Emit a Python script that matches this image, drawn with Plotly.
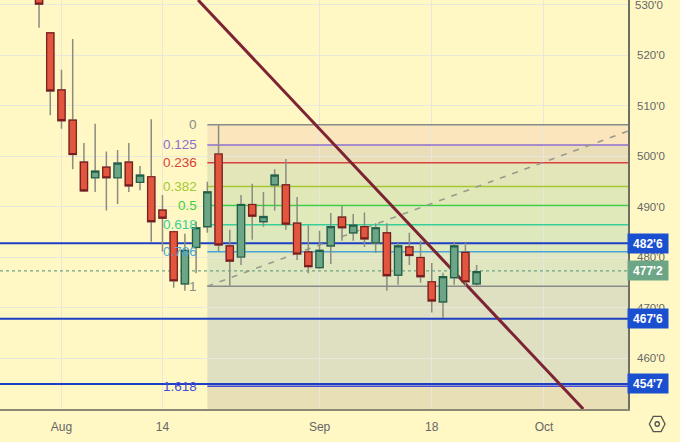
import plotly.graph_objects as go

# Session index: 0 = 1 Aug; weekdays only
sessions = list(range(-2, 38))
opens = [532.9,524.4,513.1,507.1,498.8,495.7,497.8,495.7,498.8,494.8,495.9,489.3,485.0,474.7,481.9,486.0,
         500.4,482.2,480.0,490.4,487.0,494.3,494.3,486.7,481.0,477.9,482.2,487.9,484.8,486.0,482.8,484.8,
         476.4,482.0,479.9,475.1,471.1,475.9,480.9,474.7]
highs = [533.5,524.5,517.1,523.2,502.6,506.4,500.9,501.2,502.6,498.0,507.3,492.3,485.2,484.6,487.0,494.9,
         506.1,485.4,492.3,494.5,492.9,497.4,499.4,491.9,486.3,485.2,488.7,490.2,488.5,488.8,486.7,486.7,
         482.8,484.8,483.2,478.8,476.9,483.0,482.8,478.4]
lows = [525.4,508.1,505.4,497.4,492.9,492.9,489.2,490.5,492.9,493.2,483.0,481.1,473.9,473.3,476.8,484.8,
        481.1,474.3,478.4,483.4,486.0,489.2,485.4,479.4,476.8,477.7,478.6,483.2,483.2,482.0,480.8,473.3,
        474.5,478.4,474.9,469.0,467.9,474.5,474.1,474.1]
closes = [530.1,512.9,507.0,500.3,493.1,497.0,495.7,498.6,494.1,496.2,487.0,487.7,475.3,481.3,485.8,492.9,
          482.4,479.2,490.4,488.1,488.0,496.2,486.5,480.6,478.1,481.3,486.0,485.8,486.3,483.6,485.8,476.3,
          482.2,480.3,476.1,471.3,476.1,482.2,475.1,477.1]

x_ticks = [0, 9, 23, 33, 43]
x_labels = ["Aug", "14", "Sep", "18", "Oct"]
y_ticks = [460, 470, 480, 490, 500, 510, 520]
y_labels = ["460'0", "470'0", "480'0", "490'0", "500'0", "510'0", "520'0"]
top_tick = 530
top_label = "530'0"

fib_labels = ["0", "0.125", "0.236", "0.382", "0.5", "0.618", "0.786", "1", "1.618"]
fib_prices = [506.2, 502.2, 498.65, 493.95, 490.2, 486.4, 481.05, 474.2, 454.4]
fib_colors = ["#8a8a8a", "#8e6fd0", "#d9413c", "#a3c832", "#3ccf3c", "#36cf9a", "#4aa3d9", "#8a8a8a", "#4a4ad8"]
fib_fills = ["#fae5bc", "#e9deb8", "#e3e6b9", "#e0e8b8", "#dfe9ba", "#dee8bd", "#e0e6bf", "#dfdfc2", "#e9dfb6"]
fib_start = 13

blue_levels = [482.75, 467.75, 454.875]
blue_labels = ["482'6", "467'6", "454'7"]
last_price = 477.25
last_label = "477'2"

trend_x = [12.17, 46.5]
trend_y = [530.9, 449.9]
dash_x = [13, 50.5]
dash_y = [474.2, 504.95]

X_MIN, X_MAX = -5.48, 50.49
Y_MIN, Y_MAX = 449.9, 530.9
BG = "#fff8c4"
RED, RED_EDGE = "#e2553f", "#7a1c1c"
GREEN, GREEN_EDGE = "#6ca686", "#1f6048"
WICK = "#8c8c80"
FONT = "Liberation Sans"
TXT = "#666666"

fig = go.Figure()

# wicks
fig.add_trace(go.Candlestick(x=sessions, open=opens, high=highs, low=lows, close=closes, whiskerwidth=0,
                             increasing=dict(fillcolor=GREEN, line=dict(color=WICK, width=1.5)),
                             decreasing=dict(fillcolor=RED, line=dict(color=WICK, width=1.5)),
                             showlegend=False, hoverinfo="skip"))
# bodies with darker edge
fig.add_trace(go.Candlestick(x=sessions, open=opens, close=closes,
                             high=[max(o, c) for o, c in zip(opens, closes)],
                             low=[min(o, c) for o, c in zip(opens, closes)], whiskerwidth=0,
                             increasing=dict(fillcolor=GREEN, line=dict(color=GREEN_EDGE, width=1.2)),
                             decreasing=dict(fillcolor=RED, line=dict(color=RED_EDGE, width=1.2)),
                             showlegend=False, hoverinfo="skip"))

shapes = []
tops = fib_prices
bottoms = fib_prices[1:] + [Y_MIN]
for t, b, col in zip(tops, bottoms, fib_fills):
    shapes.append(dict(type="rect", xref="x", yref="y", x0=fib_start, x1=X_MAX, y0=b, y1=t,
                       fillcolor=col, line_width=0, layer="below"))
for p, col in zip(fib_prices, fib_colors):
    shapes.append(dict(type="line", xref="x", yref="y", x0=fib_start, x1=X_MAX, y0=p, y1=p,
                       line=dict(color=col, width=1.5), layer="between"))
for p in blue_levels:
    shapes.append(dict(type="line", xref="x", yref="y", x0=X_MIN, x1=X_MAX, y0=p, y1=p,
                       line=dict(color="#1c3fc4", width=2), layer="between"))
shapes.append(dict(type="line", xref="x", yref="y", x0=X_MIN, x1=X_MAX, y0=last_price, y1=last_price,
                   line=dict(color=GREEN, width=1.2, dash="dot"), layer="between"))
shapes.append(dict(type="line", xref="x", yref="y", x0=dash_x[0], x1=dash_x[1], y0=dash_y[0], y1=dash_y[1],
                   line=dict(color="#9a9a8c", width=1.5, dash="6px,7px"), layer="between"))
shapes.append(dict(type="line", xref="x", yref="y", x0=trend_x[0], x1=trend_x[1], y0=trend_y[0], y1=trend_y[1],
                   line=dict(color="#7c2433", width=3), layer="between"))
# horizontal grid line of the top tick, whose label is an annotation
shapes.append(dict(type="line", xref="x", yref="y", x0=X_MIN, x1=X_MAX, y0=top_tick, y1=top_tick,
                   line=dict(color="#e9e6dc", width=1), layer="below"))
# settings icon
cx, cy, rx, ry = 1.0465, -0.0367, 0.0125, 0.0185
hexpath = (f"M{cx-rx},{cy} L{cx-rx/2},{cy+ry} L{cx+rx/2},{cy+ry} L{cx+rx},{cy} "
           f"L{cx+rx/2},{cy-ry} L{cx-rx/2},{cy-ry} Z")
shapes.append(dict(type="path", xref="paper", yref="paper", path=hexpath, line=dict(color="#555555", width=1.3)))
shapes.append(dict(type="circle", xref="paper", yref="paper", x0=cx-0.0035, x1=cx+0.0035,
                   y0=cy-0.0055, y1=cy+0.0055, line=dict(color="#555555", width=1.3)))

annotations = []
for lab, p, col in zip(fib_labels, fib_prices, fib_colors):
    annotations.append(dict(x=12.17, y=p, xref="x", yref="y", text=lab, showarrow=False, xanchor="right",
                            yanchor="middle", xshift=1, font=dict(family=FONT, size=13.5, color=col)))
annotations.append(dict(x=1, y=top_tick, xref="paper", yref="y", text=top_label, showarrow=False,
                        xanchor="left", yanchor="middle", xshift=5, font=dict(family=FONT, size=11.5, color=TXT)))
for lab, p in zip(blue_labels, blue_levels):
    annotations.append(dict(x=1, y=p, xref="paper", yref="y", text=f"<b>{lab}</b>", showarrow=False,
                            xanchor="left", yanchor="middle", xshift=-1, width=38, height=17, bgcolor="#1a4fd0",
                            align="center", font=dict(family=FONT, size=12, color="white")))
annotations.append(dict(x=1, y=last_price, xref="paper", yref="y", text=f"<b>{last_label}</b>", showarrow=False,
                        xanchor="left", yanchor="middle", xshift=-1, width=38, height=17, bgcolor=GREEN,
                        align="center", font=dict(family=FONT, size=12, color="white")))

fig.update_layout(
    width=680, height=442, margin=dict(l=0, r=52, t=0, b=33), autosize=False,
    paper_bgcolor=BG, plot_bgcolor=BG, showlegend=False,
    boxmode="overlay", boxgap=0.2, boxgroupgap=0.2,
    shapes=shapes, annotations=annotations,
    xaxis=dict(range=[X_MIN, X_MAX], tickvals=x_ticks, ticktext=x_labels, rangeslider=dict(visible=False),
               showgrid=True, gridcolor="#e9e6dc", gridwidth=1, zeroline=False, showline=True,
               linecolor="#8a8a74", linewidth=2, ticks="outside", ticklen=6, tickcolor="rgba(0,0,0,0)",
               tickfont=dict(family=FONT, size=12, color=TXT)),
    yaxis=dict(range=[Y_MIN, Y_MAX], side="right", tickvals=y_ticks, ticktext=y_labels,
               showgrid=True, gridcolor="#e9e6dc", gridwidth=1, zeroline=False, showline=True,
               linecolor="#6e6e62", linewidth=1.5, ticks="outside", ticklen=5, tickcolor="rgba(0,0,0,0)",
               tickfont=dict(family=FONT, size=11.5, color=TXT)),
)
fig.write_html("out.html", config=dict(displayModeBar=False),
               post_script="document.body.style.margin='0';document.documentElement.style.overflow='hidden';document.body.style.background='#fff8c4';")
